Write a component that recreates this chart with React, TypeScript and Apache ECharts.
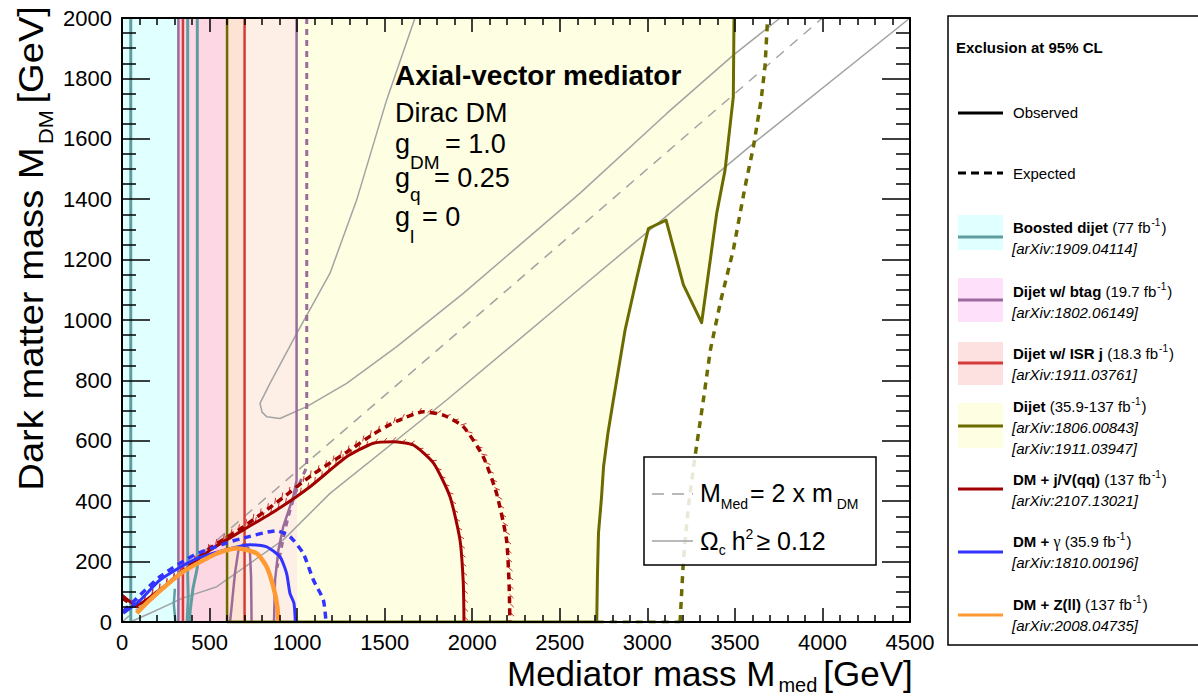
import React, { useEffect, useRef } from 'react';
import * as echarts from 'echarts';

// ---------------- data ----------------
const X_MIN = 0, X_MAX = 4500, X_STEP = 500;
const Y_MIN = 0, Y_MAX = 2000, Y_STEP = 200;

// excluded vertical bands [from, to] in GeV
const BAND_BOOSTED = [0, 318];
const BAND_BTAG_ISR = [318, 600];
const BAND_DIJET_BTAG_ISR = [600, 700];
const BAND_DIJET_BTAG = [700, 1000];

// Boosted dijet observed contours
const BOOSTED_OBS_A = [[50, 0], [50, 2000]];
const BOOSTED_OBS_B = [[375, 2000], [375, 160], [378, 80], [372, 0]];
const BOOSTED_OBS_C = [[430, 2000], [430, 180], [405, 110], [390, 40], [385, 0]];
const BOOSTED_OBS_D = [[305, 0], [296, 60], [302, 110]];

// Dijet w/ btag
const BTAG_OBS_A = [[322, 0], [322, 2000]];
const BTAG_OBS_B = [[997, 2000], [997, 470], [980, 420], [959, 382], [921, 316], [893, 238], [874, 139], [868, 0]];
const BTAG_OBS_C = [[617, 0], [626, 51], [645, 161], [665, 238], [700, 262], [730, 238], [737, 150], [740, 0]];
const BTAG_EXP = [[1055, 2000], [1055, 514], [1030, 480], [985, 420], [950, 350], [925, 290], [905, 230], [885, 180]];

// Dijet w/ ISR j
const ISR_OBS_A = [[348, 0], [348, 2000]];
const ISR_OBS_B = [[700, 0], [700, 2000]];

// Dijet
const DIJET_OBS_A = [[600, 0], [600, 2000]];
const DIJET_OBS_B = [[2711, 0], [2715, 150], [2721, 294], [2738, 410], [2750, 514], [2775, 625], [2806, 735], [2873, 967], [2940, 1140], [3006, 1303], [3107, 1331], [3206, 1116], [3310, 991], [3396, 1353], [3444, 1497], [3491, 1739], [3495, 2000]];
const DIJET_OBS_BASE = [[600, 0], [2711, 0]];
const DIJET_EXP = [[3187, 0], [3206, 205], [3234, 382], [3272, 547], [3320, 735], [3360, 901], [3420, 1066], [3491, 1232], [3558, 1441], [3606, 1574], [3650, 1730], [3672, 1839], [3687, 2000]];
const DIJET_EXP_BASE = [[2711, 0], [3187, 0]];

// DM + j/V(qq)
const DMJ_OBS = [[0, 89], [40, 70], [84, 56], [200, 100], [312, 150], [503, 238], [693, 305], [883, 371], [1074, 448], [1283, 547], [1435, 592], [1549, 597], [1664, 586], [1779, 526], [1873, 415], [1930, 272], [1949, 128], [1953, 0]];
const DMJ_EXP = [[0, 80], [84, 52], [312, 152], [503, 244], [693, 315], [902, 404], [1093, 490], [1283, 562], [1435, 622], [1569, 665], [1721, 696], [1835, 685], [1949, 647], [2063, 547], [2139, 426], [2196, 272], [2211, 117], [2215, 0]];

// DM + gamma
const DMG_OBS = [[7, 29], [100, 70], [217, 139], [407, 205], [598, 240], [731, 256], [826, 249], [902, 216], [940, 161], [959, 95], [982, 62], [990, 0]];
const DMG_EXP = [[7, 35], [217, 150], [407, 220], [598, 262], [674, 275], [883, 302], [959, 283], [1035, 227], [1093, 139], [1150, 73], [1165, 0]];

// DM + Z(ll)
const DMZ_OBS = [[84, 29], [160, 73], [250, 120], [350, 167], [541, 227], [655, 244], [769, 227], [826, 183], [864, 117], [887, 51], [893, 0]];

// relic density and diagonal
const RELIC_UPPER = [[1673, 2000], [1511, 1728], [1340, 1397], [1188, 1155], [998, 956], [845, 790], [788, 724], [800, 695], [826, 680], [902, 674], [1055, 713], [1283, 790], [1569, 912], [1949, 1088], [2616, 1420], [3111, 1684], [3491, 1877], [3758, 2000]];
const RELIC_LOWER = [[46, 0], [160, 29], [350, 80], [541, 117], [921, 272], [1188, 426], [1854, 735], [2616, 1105], [3606, 1585], [4500, 2000]];
const DIAGONAL = [[0, 0], [4000, 2000]];

// legend texts
const LEG_NAMES = ['Boosted dijet', 'Dijet w/ btag', 'Dijet w/ ISR j', 'Dijet', 'DM + j/V(qq)', 'DM + ', 'DM + Z(ll)'];
const LEG_LUMI = [' (77 fb', ' (19.7 fb', ' (18.3 fb', ' (35.9-137 fb', ' (137 fb', ' (35.9 fb', ' (137 fb'];
const LEG_REFS = [['[arXiv:1909.04114]'], ['[arXiv:1802.06149]'], ['[arXiv:1911.03761]'], ['[arXiv:1806.00843]', '[arXiv:1911.03947]'], ['[arXiv:2107.13021]'], ['[arXiv:1810.00196]'], ['[arXiv:2008.04735]']];

// ---------------- styles ----------------
const FONT = '"Liberation Sans", Arial, Helvetica, sans-serif';
const SERIF = '"Liberation Serif", "Times New Roman", serif';
const C = {
  cyanFill: '#e0ffff', pinkFill: '#fed7e5', peachFill: '#fde3d4', lightPeach: '#fdefe5', yellow: '#fefee2',
  btagFill: '#ffe0fa', isrFill: '#fde0e0',
  teal: '#5f9ea0', purple: '#9b6b9d', red: '#d63b3b', olive: '#6b6b00', darkRed: '#a00000', blue: '#3333ff', orange: '#ff9933', grey: '#a3a3a3',
  redHatch: '#d03030',
};

let _ctx: CanvasRenderingContext2D | null = null;
function measure(text: string, size: number, weight = 'normal', style = 'normal', family = FONT) {
  if (!_ctx) _ctx = document.createElement('canvas').getContext('2d');
  _ctx!.font = `${style} ${weight} ${size}px ${family}`;
  return _ctx!.measureText(text).width;
}

type Part = { t: string; size: number; weight?: string; style?: string; family?: string; dy?: number; gap?: number; x?: number };

function txt(x: number, base: number, p: Part, fill = '#000') {
  return {
    type: 'text', x, y: base - 0.35 * p.size, silent: true, z: 100,
    style: {
      text: p.t, fontSize: p.size, fontWeight: p.weight || 'normal', fontStyle: p.style || 'normal',
      fontFamily: p.family || FONT, fill, textAlign: 'left', verticalAlign: 'middle',
    },
  };
}

function runs(x0: number, base: number, parts: Part[], fill = '#000') {
  let x = x0;
  const out: any[] = [];
  for (const p of parts) {
    if (p.x !== undefined) x = p.x;
    x += p.gap || 0;
    out.push(txt(x, base + (p.dy || 0), p, fill));
    x += measure(p.t, p.size, p.weight, p.style, p.family);
  }
  return out;
}
function runsWidth(parts: Part[]) {
  return parts.reduce((s, p) => s + (p.gap || 0) + measure(p.t, p.size, p.weight, p.style, p.family), 0);
}

function poly(pts: number[][], color: string, z = 1) {
  return {
    type: 'custom', coordinateSystem: 'cartesian2d', silent: true, z, clip: true,
    data: [[pts[0][0], pts[0][1]]],
    renderItem: (_params: any, api: any) => ({
      type: 'polygon',
      shape: { points: pts.map((p) => api.coord(p)) },
      style: { fill: color },
    }),
  };
}
function band(r: number[], color: string) {
  return poly([[r[0], Y_MIN], [r[1], Y_MIN], [r[1], Y_MAX], [r[0], Y_MAX]], color);
}
function line(pts: number[][], color: string, width: number, dash?: number[], z = 3, smooth: number | boolean = false) {
  return {
    type: 'line', data: pts, showSymbol: false, symbol: 'none', silent: true, z, clip: true, smooth,
    lineStyle: { color, width, type: dash ? dash : 'solid', cap: 'butt', join: 'round' },
  };
}
// short hatch marks along a contour, placed through the axes' scale
function hatch(pts: number[][], color: string, spacing: number, len: number, side: number, z = 3) {
  return {
    type: 'custom', coordinateSystem: 'cartesian2d', silent: true, z, clip: true,
    data: [[pts[0][0], pts[0][1]]],
    renderItem: (_params: any, api: any) => {
      const px = pts.map((p) => api.coord(p));
      const children: any[] = [];
      let carry = 0;
      for (let i = 0; i < px.length - 1; i++) {
        const [x1, y1] = px[i];
        const [x2, y2] = px[i + 1];
        const dx = x2 - x1, dy = y2 - y1;
        const L = Math.hypot(dx, dy);
        if (L === 0) continue;
        const ux = dx / L, uy = dy / L;
        const nx = -uy * side, ny = ux * side;
        const hx = (nx + ux) / Math.SQRT2, hy = (ny + uy) / Math.SQRT2;
        let d = spacing - carry;
        while (d <= L) {
          const sx = x1 + ux * d, sy = y1 + uy * d;
          children.push({ type: 'line', shape: { x1: sx, y1: sy, x2: sx + hx * len, y2: sy + hy * len }, style: { stroke: color, lineWidth: 1 } });
          d += spacing;
        }
        carry = L - (d - spacing);
      }
      return { type: 'group', children };
    },
  };
}

function buildOption() {
  const dijetFill = [[1000, 0], ...DIJET_OBS_B, [1000, 2000]];

  const series: any[] = [
    band(BAND_BOOSTED, C.cyanFill),
    band(BAND_BTAG_ISR, C.pinkFill),
    band(BAND_DIJET_BTAG_ISR, C.peachFill),
    band(BAND_DIJET_BTAG, C.lightPeach),
    poly(dijetFill, C.yellow),
    line(DIAGONAL, C.grey, 1.5, [10, 8], 2),
    line(RELIC_UPPER, C.grey, 1.5, undefined, 2),
    line(RELIC_LOWER, C.grey, 1.5, undefined, 2),
    line(BOOSTED_OBS_A, C.teal, 3),
    line(BOOSTED_OBS_B, C.teal, 3),
    line(BOOSTED_OBS_C, C.teal, 3),
    line(BOOSTED_OBS_D, C.teal, 2.5),
    line(BTAG_OBS_A, C.purple, 2.5),
    line(BTAG_OBS_B, C.purple, 2.5),
    line(BTAG_OBS_C, C.purple, 2.5),
    line(BTAG_EXP, C.purple, 3, [6, 5]),
    line(ISR_OBS_A, C.red, 2.5),
    line(ISR_OBS_B, C.red, 2.5),
    line(DIJET_OBS_A, C.olive, 2.5),
    line(DIJET_OBS_B, C.olive, 3),
    line(DIJET_OBS_BASE, C.olive, 3),
    line(DIJET_EXP, C.olive, 3.5, [7, 6]),
    line(DIJET_EXP_BASE, C.olive, 3, [7, 6]),
    hatch(DMJ_OBS, C.redHatch, 9, 6, -1, 3),
    hatch(DMJ_EXP, C.redHatch, 9, 6, -1, 3),
    line(DMJ_EXP, C.darkRed, 3.5, [7, 5], 4, 0.2),
    line(DMJ_OBS, C.darkRed, 3, undefined, 4, 0.2),
    line(DMG_EXP, C.blue, 3.5, [7, 5], 4, 0.2),
    line(DMG_OBS, C.blue, 3, undefined, 4, 0.2),
    line(DMZ_OBS, C.orange, 4.5, undefined, 5, 0.2),
  ];

  const tickStyle = { color: '#000', width: 1.5 };
  const plain = (v: number) => String(v);
  const xBase: any = {
    type: 'value', min: X_MIN, max: X_MAX, interval: X_STEP, z: 10, gridIndex: 0,
    axisLine: { show: true, onZero: false, lineStyle: { color: '#000', width: 2 } },
    axisTick: { show: true, inside: true, length: 14, lineStyle: tickStyle },
    minorTick: { show: true, splitNumber: 5, length: 7, lineStyle: tickStyle },
    splitLine: { show: false }, minorSplitLine: { show: false },
  };
  const yBase: any = {
    type: 'value', min: Y_MIN, max: Y_MAX, interval: Y_STEP, z: 10, gridIndex: 0,
    axisLine: { show: true, onZero: false, lineStyle: { color: '#000', width: 2 } },
    axisTick: { show: true, inside: true, length: 28, lineStyle: tickStyle },
    minorTick: { show: true, splitNumber: 4, length: 14, lineStyle: tickStyle },
    splitLine: { show: false }, minorSplitLine: { show: false },
  };

  // ---------- graphic: texts & legends ----------
  const g: any[] = [];
  // annotation
  g.push(...runs(395, 85, [{ t: 'Axial-vector mediator', size: 28, weight: 'bold' }]));
  g.push(...runs(395, 122, [{ t: 'Dirac DM', size: 27 }]));
  g.push(...runs(395, 153, [{ t: 'g', size: 27 }, { t: 'DM', size: 19, x: 410, dy: 16 }, { t: '= 1.0', size: 27, x: 445, dy: 0 }]));
  g.push(...runs(395, 187, [{ t: 'g', size: 27 }, { t: 'q', size: 19, x: 410, dy: 14 }, { t: '= 0.25', size: 27, x: 434 }]));
  g.push(...runs(395, 226, [{ t: 'g', size: 27 }, { t: 'l', size: 19, x: 410, dy: 17 }, { t: '= 0', size: 27, x: 422 }]));

  // x axis title
  g.push(...runs(507, 686, [
    { t: 'Mediator mass M', size: 35 },
    { t: 'med', size: 20, dy: 6, gap: 3 },
    { t: '[GeV]', size: 35, gap: 6 },
  ]));
  // y axis title (rotated, slightly stretched along its length as in the reference)
  const yParts: Part[] = [
    { t: 'Dark matter mass M', size: 35 },
    { t: 'DM', size: 20, dy: 10, gap: 3 },
    { t: '[GeV]', size: 35, gap: 6 },
  ];
  const yStretch = 1.09;
  const yLen = runsWidth(yParts) * yStretch;
  g.push({ type: 'group', x: 43, y: 6 + yLen, rotation: Math.PI / 2, scaleX: yStretch, z: 100, children: runs(0, 0, yParts) });

  // inner legend
  g.push({ type: 'rect', z: 90, silent: true, shape: { x: 644, y: 457, width: 232, height: 108 }, style: { fill: 'rgba(255,255,255,0.85)', stroke: '#000', lineWidth: 1.5 } });
  g.push({ type: 'line', z: 100, silent: true, shape: { x1: 652, y1: 494, x2: 693, y2: 494 }, style: { stroke: C.grey, lineWidth: 1.5, lineDash: [12, 8] } });
  g.push(...runs(700, 502, [
    { t: 'M', size: 25 }, { t: 'Med', size: 14, dy: 7 }, { t: '= 2 x m', size: 25, gap: 2 }, { t: 'DM', size: 14, dy: 7, gap: 4 },
  ]));
  g.push({ type: 'line', z: 100, silent: true, shape: { x1: 652, y1: 541, x2: 693, y2: 541 }, style: { stroke: C.grey, lineWidth: 1.5 } });
  g.push(...runs(700, 550, [
    { t: 'Ω', size: 25 }, { t: 'c', size: 14, dy: 5 }, { t: 'h', size: 25, gap: 6 }, { t: '2', size: 14, dy: -11 }, { t: '≥ 0.12', size: 25, gap: 3 },
  ]));

  // right legend
  g.push({ type: 'rect', z: 90, silent: true, shape: { x: 948, y: 16, width: 270, height: 629 }, style: { fill: '#fff', stroke: '#000', lineWidth: 1.5 } });
  g.push(...runs(956, 53, [{ t: 'Exclusion at 95% CL', size: 15, weight: 'bold' }]));
  g.push({ type: 'line', z: 100, silent: true, shape: { x1: 958, y1: 113, x2: 1003, y2: 113 }, style: { stroke: '#000', lineWidth: 3 } });
  g.push(...runs(1013, 118, [{ t: 'Observed', size: 15 }]));
  g.push({ type: 'line', z: 100, silent: true, shape: { x1: 958, y1: 173, x2: 1003, y2: 173 }, style: { stroke: '#000', lineWidth: 3, lineDash: [8, 5] } });
  g.push(...runs(1013, 179, [{ t: 'Expected', size: 15 }]));

  const entryFill = [C.cyanFill, C.btagFill, C.isrFill, C.yellow, null, null, null];
  const entryLine = [C.teal, C.purple, C.red, C.olive, C.darkRed, C.blue, C.orange];
  const entryBox = [[215, 250], [278, 322], [342, 385], [403, 448], null, null, null];
  const entryLineY = [237, 300, 363, 426, 489, 552, 615];
  const entryBase = [233, 297, 359, 412, 485, 547, 610];
  for (let i = 0; i < LEG_NAMES.length; i++) {
    const box = entryBox[i];
    if (box && entryFill[i]) {
      g.push({ type: 'rect', z: 95, silent: true, shape: { x: 958, y: box[0], width: 45, height: box[1] - box[0] }, style: { fill: entryFill[i] } });
    }
    g.push({ type: 'line', z: 100, silent: true, shape: { x1: 958, y1: entryLineY[i], x2: 1003, y2: entryLineY[i] }, style: { stroke: entryLine[i], lineWidth: 3 } });
    const parts: Part[] = [{ t: LEG_NAMES[i], size: 15, weight: 'bold' }];
    if (i === 5) parts.push({ t: 'γ', size: 16, family: SERIF });
    parts.push({ t: LEG_LUMI[i], size: 15 }, { t: '-1', size: 10, dy: -7, gap: 1 }, { t: ')', size: 15, gap: 1 });
    g.push(...runs(1013, entryBase[i], parts));
    LEG_REFS[i].forEach((r, k) => {
      g.push(...runs(1012, entryBase[i] + 21 + k * 20.5, [{ t: r, size: 15, style: 'italic' }]));
    });
  }

  return {
    animation: false,
    backgroundColor: '#fff',
    grid: { left: 122, top: 18, right: 288, bottom: 77, containLabel: false },
    xAxis: [
      { ...xBase, position: 'bottom', axisLabel: { show: true, fontSize: 22, color: '#000', fontFamily: FONT, margin: 9, formatter: plain } },
      { ...xBase, position: 'top', axisLabel: { show: false } },
    ],
    yAxis: [
      { ...yBase, position: 'left', axisLabel: { show: true, fontSize: 22, color: '#000', fontFamily: FONT, margin: 10, formatter: plain } },
      { ...yBase, position: 'right', axisLabel: { show: false } },
    ],
    series,
    graphic: { elements: g },
  };
}

export default function App() {
  const ref = useRef<HTMLDivElement>(null);
  useEffect(() => {
    document.body.style.margin = '0';
    if (!ref.current) return;
    const chart = echarts.init(ref.current, undefined, { renderer: 'svg' });
    chart.setOption(buildOption() as any);
    return () => chart.dispose();
  }, []);
  return <div ref={ref} style={{ width: 1198, height: 699 }} />;
}
